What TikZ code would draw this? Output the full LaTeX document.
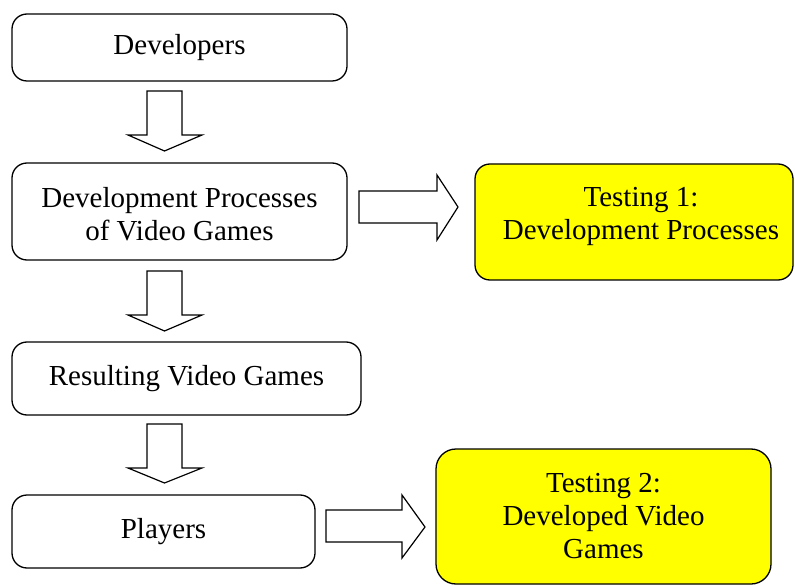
\documentclass[tikz,border=0pt]{standalone}
\usepackage{fontspec}
\setmainfont{Liberation Serif}
\definecolor{boxyellow}{RGB}{255,255,0}
\begin{document}
\begin{tikzpicture}[x=1pt,y=-1pt,
  box/.style={draw=black, line width=1.3pt, rounded corners=15pt, fill=white,
    inner sep=0pt, align=center, font=\fontsize{29}{33}\selectfont},
  testbox/.style={box, fill=boxyellow},
  plaintext/.style={inner sep=0pt, align=center, font=\fontsize{29}{33}\selectfont},
  blockarrow/.style={draw=black, line width=1.2pt, fill=white, line join=miter}]
\useasboundingbox (0,0) rectangle (795,585);

% main column of stages
\node[box, minimum width=335pt, minimum height=67pt] (dev) at (179.5,47.5) {Developers};
\node[box, minimum width=335pt, minimum height=97pt] (proc) at (179.5,211.5) {};
\node[plaintext] (proctext) at (179.5,214.5) {Development Processes\\of Video Games};
\node[box, minimum width=349pt, minimum height=73pt] (res) at (186.5,378.5) {Resulting Video Games};
\node[box, minimum width=303pt, minimum height=73pt] (play) at (163.5,531.5) {Players};

% testing stages
\node[testbox, minimum width=318pt, minimum height=116pt] (test1) at (634,222) {};
\node[plaintext] (test1text) at (641,216.5) {Testing 1:\\Development Processes};
\node[testbox, rounded corners=20pt, minimum width=335pt, minimum height=135pt] (test2) at (603.5,516.5)
  {Testing 2:\\Developed Video\\Games};

% downward block arrows between stages
\draw[blockarrow] (147,91) -- (182,91) -- (182,135) -- (202,135) -- (164.5,151)
  -- (128,135) -- (147,135) -- cycle;
\draw[blockarrow] (147,271) -- (182,271) -- (182,315) -- (202,315) -- (164.5,331)
  -- (128,315) -- (147,315) -- cycle;
\draw[blockarrow] (147,424) -- (182,424) -- (182,468) -- (202,468) -- (164.5,483)
  -- (128,468) -- (147,468) -- cycle;

% rightward block arrows to the testing stages
\draw[blockarrow] (359,191) -- (437,191) -- (437,175) -- (458,207) -- (437,240)
  -- (437,223) -- (359,223) -- cycle;
\draw[blockarrow] (326,510) -- (402,510) -- (402,495) -- (425,527) -- (402,558)
  -- (402,542) -- (326,542) -- cycle;
\end{tikzpicture}
\end{document}
